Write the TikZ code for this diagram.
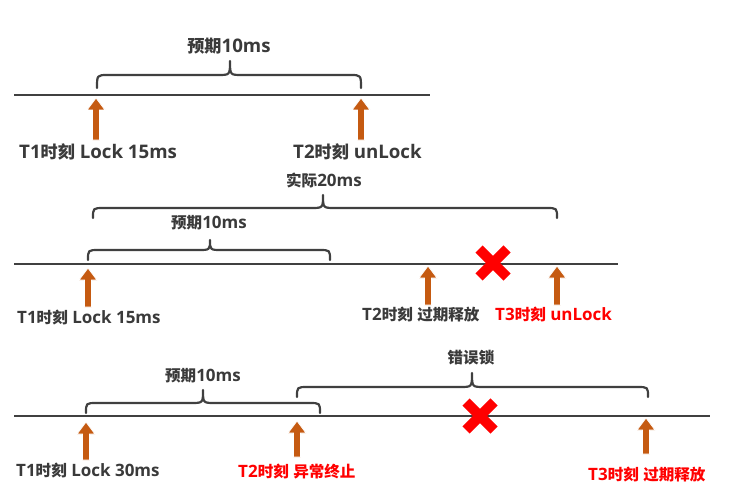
\documentclass[tikz,border=0pt]{standalone}
\usepackage{fontspec}
\setmainfont{Open Sans}
\newfontfamily\cjkfont{Noto Sans CJK SC}[Scale=0.915]
\newcommand\cj[1]{{\cjkfont #1}}
\definecolor{txtgray}{HTML}{3A3A3A}
\definecolor{linegray}{HTML}{404040}
\definecolor{orangebr}{HTML}{C55A11}
\definecolor{xred}{HTML}{FF0000}
\tikzset{
  timeline/.style={draw=linegray, line width=2.4pt},
  bracestyle/.style={draw=linegray, line width=2.2pt, line cap=round, line join=round},
  arrowshape/.style={fill=orangebr, draw=white, line width=0.8pt},
  crossbar/.style={draw=xred, line width=10pt},
  lbl/.style={inner sep=0pt, font=\bfseries\fontsize{17}{20}\selectfont, text=txtgray},
  biglbl/.style={lbl, font=\bfseries\fontsize{18.7}{22}\selectfont},
  redlbl/.style={lbl, text=xred},
}
% x0, x1, xm, ytop, ybottom, ytip
\newcommand\mybrace[6]{%
  \draw[bracestyle] (#1,#5) .. controls (#1,#4) .. ({#1+11},#4) -- ({#3-12},#4)
    .. controls (#3,#4) .. (#3,#6) .. controls (#3,#4) .. ({#3+12},#4)
    -- ({#2-11},#4) .. controls (#2,#4) .. (#2,#5);}
% x, ytip, ybottom
\newcommand\blockarrow[3]{%
  \filldraw[arrowshape] (#1,#2) -- ({#1+9},{#2+12}) -- ({#1+3.5},{#2+12}) -- ({#1+3.5},#3)
    -- ({#1-3.5},#3) -- ({#1-3.5},{#2+12}) -- ({#1-9},{#2+12}) -- cycle;}
% cx, cy
\newcommand\redcross[2]{%
  \draw[crossbar] ({#1-14},{#2-14}) -- ({#1+14},{#2+14});
  \draw[crossbar] ({#1-14},{#2+14}) -- ({#1+14},{#2-14});}
\begin{document}
\begin{tikzpicture}[x=1pt,y=-1pt]
\useasboundingbox[fill=white] (0,0) rectangle (733,500);
% ---------- panel 1 ----------
\coordinate (l1a) at (14,95);
\coordinate (l1b) at (430,95);
\draw[timeline] (l1a) -- (l1b);
\mybrace{97}{361}{230}{75}{88}{61}
\node[biglbl] (p1exp) at (229,46) {\cj{预期}10ms};
\blockarrow{96}{98}{140}
\blockarrow{361}{98}{140}
\node[biglbl, anchor=west] (p1t1) at (19,152) {T1\cj{时刻} Lock 15ms};
\node[biglbl, anchor=west] (p1t2) at (293,152) {T2\cj{时刻} unLock};
% ---------- panel 2 ----------
\coordinate (l2a) at (14,264);
\coordinate (l2b) at (618,264);
\draw[timeline] (l2a) -- (l2b);
\mybrace{93}{557}{323}{208}{218}{195}
\node[lbl] (p2act) at (324,180) {\cj{实际}20ms};
\mybrace{88}{330}{210}{250}{260}{240}
\node[lbl] (p2exp) at (209,223) {\cj{预期}10ms};
\blockarrow{88}{268}{307}
\blockarrow{428}{266}{305}
\blockarrow{557}{266}{305}
\redcross{493}{263}
\node[lbl, anchor=west] (p2t1) at (17,318) {T1\cj{时刻} Lock 15ms};
\node[lbl, anchor=west] (p2t2) at (362,315) {T2\cj{时刻} \cj{过期释放}};
\node[redlbl, anchor=west] (p2t3) at (495,315) {T3\cj{时刻} unLock};
% ---------- panel 3 ----------
\coordinate (l3a) at (14,416);
\coordinate (l3b) at (710,416);
\draw[timeline] (l3a) -- (l3b);
\mybrace{86}{320}{203}{403}{413}{390}
\node[lbl] (p3exp) at (203,376) {\cj{预期}10ms};
\mybrace{297}{648}{472}{387}{397}{373}
\node[lbl] (p3err) at (471,358) {\cj{错误锁}};
\blockarrow{86}{422}{460}
\blockarrow{297}{421}{457}
\blockarrow{646}{418}{454}
\redcross{480}{416}
\node[lbl, anchor=west] (p3t1) at (16,471) {T1\cj{时刻} Lock 30ms};
\node[redlbl, anchor=west] (p3t2) at (238,472) {T2\cj{时刻} \cj{异常终止}};
\node[redlbl, anchor=west] (p3t3) at (588,475) {T3\cj{时刻} \cj{过期释放}};
\end{tikzpicture}
\end{document}
